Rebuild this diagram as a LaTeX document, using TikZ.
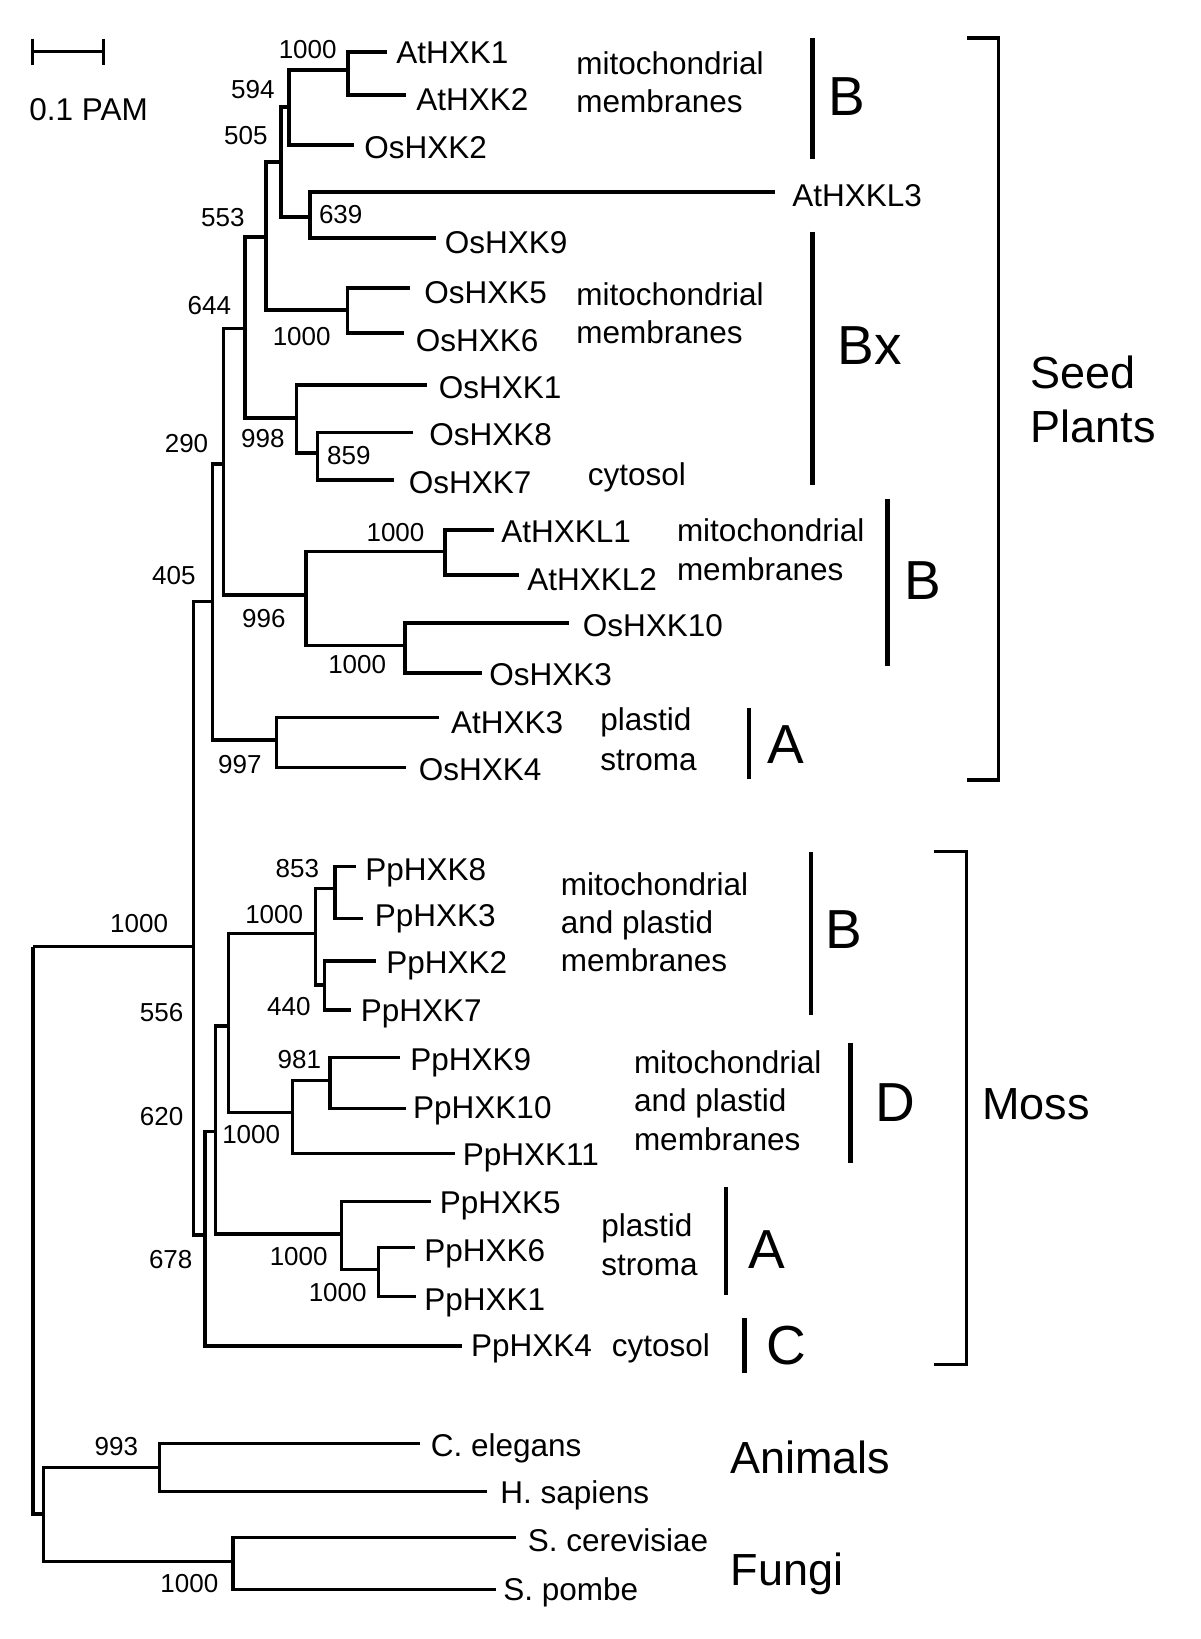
\documentclass[tikz,border=0pt]{standalone}
\usepackage{fontspec}
\setmainfont{Liberation Sans}
\begin{document}
\begin{tikzpicture}[x=0.5pt,y=-0.5pt,
  br/.style={line width=1.6pt},
  bar/.style={line width=2.4pt},
  brk/.style={line width=1.6pt},
  leaf/.style={anchor=base west,inner sep=0pt,font=\fontsize{15.75}{18}\selectfont},
  ann/.style={anchor=base west,inner sep=0pt,font=\fontsize{15.75}{18}\selectfont},
  boot/.style={anchor=east,inner sep=0pt,font=\fontsize{13}{15}\selectfont},
  big/.style={anchor=base west,inner sep=0pt,font=\fontsize{27.5}{30}\selectfont},
  grp/.style={anchor=base west,inner sep=0pt,font=\fontsize{22.5}{26}\selectfont}]
\useasboundingbox (0,0) rectangle (1200,1639);
\fill[white] (0,0) rectangle (1200,1639);

% scale bar
\draw[br] (32.5,51.7) -- (103.3,51.7);
\draw[br] (32.5,38.5) -- (32.5,65);
\draw[br] (103.3,38.5) -- (103.3,65);
\node[leaf] (scale) at (29,120) {0.1 PAM};

% internal nodes
\coordinate (R) at (33,946.7);
\coordinate (NSM) at (193.3,946.7);
\coordinate (NAF) at (43.3,1514);
\coordinate (N993) at (159.8,1467.3);
\coordinate (Nfun) at (233,1561.7);
\coordinate (N405) at (212.3,601.7);
\coordinate (N678) at (205,1235);
\coordinate (N290) at (223.3,464);
\coordinate (N997) at (276.3,740);
\coordinate (N644) at (245,328.3);
\coordinate (N996) at (306,595);
\coordinate (NL12) at (445,551.7);
\coordinate (N103) at (405,645.7);
\coordinate (N553) at (266,237);
\coordinate (N998) at (296.6,418);
\coordinate (N859) at (317.6,453);
\coordinate (N505) at (281,162);
\coordinate (N56) at (347.5,310);
\coordinate (N594) at (289,107);
\coordinate (N639) at (310,217);
\coordinate (N12) at (348,70);
\coordinate (Nm) at (215.7,1131.7);
\coordinate (N556) at (228.3,1026);
\coordinate (NA) at (341.5,1234);
\coordinate (N1a) at (315.7,933.3);
\coordinate (N1b) at (292.8,1112.7);
\coordinate (N853) at (334.9,888.3);
\coordinate (N440) at (324.5,985);
\coordinate (N981) at (329.9,1080.7);
\coordinate (N61) at (378.5,1269.3);

% leaf ends
\coordinate (lAtHXK1) at (386.5,52);
\coordinate (lAtHXK2) at (405.6,95);
\coordinate (lOsHXK2) at (354,145);
\coordinate (lAtHXKL3) at (774.5,192);
\coordinate (lOsHXK9) at (436,238);
\coordinate (lOsHXK5) at (409.5,288);
\coordinate (lOsHXK6) at (404,333);
\coordinate (lOsHXK1) at (426.7,385);
\coordinate (lOsHXK8) at (412.5,432.7);
\coordinate (lOsHXK7) at (394,480);
\coordinate (lAtHXKL1) at (493.7,530);
\coordinate (lAtHXKL2) at (518.6,575);
\coordinate (lOsHXK10) at (568.6,623);
\coordinate (lOsHXK3) at (482,673);
\coordinate (lAtHXK3) at (439.3,717.7);
\coordinate (lOsHXK4) at (405.6,767.7);
\coordinate (lPpHXK8) at (355.9,866.7);
\coordinate (lPpHXK3) at (362.8,918.3);
\coordinate (lPpHXK2) at (375.8,961);
\coordinate (lPpHXK7) at (351.3,1010);
\coordinate (lPpHXK9) at (400,1057.3);
\coordinate (lPpHXK10) at (405.6,1108.3);
\coordinate (lPpHXK11) at (455.4,1153.3);
\coordinate (lPpHXK5) at (430.5,1201.7);
\coordinate (lPpHXK6) at (415,1247.7);
\coordinate (lPpHXK1) at (416,1296.7);
\coordinate (lPpHXK4) at (462,1346);
\coordinate (lCel) at (419.6,1443.3);
\coordinate (lHsa) at (486.6,1491.7);
\coordinate (lSce) at (515.6,1537.3);
\coordinate (lSpo) at (495.5,1589.3);

% branches
\draw[br] (R) |- (NSM);
\draw[br] (R) |- (NAF);
\draw[br] (NAF) |- (N993);
\draw[br] (NAF) |- (Nfun);
\draw[br] (N993) |- (lCel);
\draw[br] (N993) |- (lHsa);
\draw[br] (Nfun) |- (lSce);
\draw[br] (Nfun) |- (lSpo);
\draw[br] (NSM) |- (N405);
\draw[br] (NSM) |- (N678);
\draw[br] (N405) |- (N290);
\draw[br] (N405) |- (N997);
\draw[br] (N997) |- (lAtHXK3);
\draw[br] (N997) |- (lOsHXK4);
\draw[br] (N290) |- (N644);
\draw[br] (N290) |- (N996);
\draw[br] (N996) |- (NL12);
\draw[br] (N996) |- (N103);
\draw[br] (NL12) |- (lAtHXKL1);
\draw[br] (NL12) |- (lAtHXKL2);
\draw[br] (N103) |- (lOsHXK10);
\draw[br] (N103) |- (lOsHXK3);
\draw[br] (N644) |- (N553);
\draw[br] (N644) |- (N998);
\draw[br] (N998) |- (lOsHXK1);
\draw[br] (N998) |- (N859);
\draw[br] (N859) |- (lOsHXK8);
\draw[br] (N859) |- (lOsHXK7);
\draw[br] (N553) |- (N505);
\draw[br] (N553) |- (N56);
\draw[br] (N56) |- (lOsHXK5);
\draw[br] (N56) |- (lOsHXK6);
\draw[br] (N505) |- (N594);
\draw[br] (N505) |- (N639);
\draw[br] (N594) |- (N12);
\draw[br] (N594) |- (lOsHXK2);
\draw[br] (N12) |- (lAtHXK1);
\draw[br] (N12) |- (lAtHXK2);
\draw[br] (N639) |- (lAtHXKL3);
\draw[br] (N639) |- (lOsHXK9);
\draw[br] (N678) |- (Nm);
\draw[br] (N678) |- (lPpHXK4);
\draw[br] (Nm) |- (N556);
\draw[br] (Nm) |- (NA);
\draw[br] (N556) |- (N1a);
\draw[br] (N556) |- (N1b);
\draw[br] (N1a) |- (N853);
\draw[br] (N1a) |- (N440);
\draw[br] (N853) |- (lPpHXK8);
\draw[br] (N853) |- (lPpHXK3);
\draw[br] (N440) |- (lPpHXK2);
\draw[br] (N440) |- (lPpHXK7);
\draw[br] (N1b) |- (N981);
\draw[br] (N1b) |- (lPpHXK11);
\draw[br] (N981) |- (lPpHXK9);
\draw[br] (N981) |- (lPpHXK10);
\draw[br] (NA) |- (lPpHXK5);
\draw[br] (NA) |- (N61);
\draw[br] (N61) |- (lPpHXK6);
\draw[br] (N61) |- (lPpHXK1);

% leaf labels
\node[leaf] (tAtHXK1) at (396,63.3) {AtHXK1};
\node[leaf] (tAtHXK2) at (416,110) {AtHXK2};
\node[leaf] (tOsHXK2) at (364,158.3) {OsHXK2};
\node[leaf] (tAtHXKL3) at (792,206.5) {AtHXKL3};
\node[leaf] (tOsHXK9) at (444.5,253.3) {OsHXK9};
\node[leaf] (tOsHXK5) at (424,303.3) {OsHXK5};
\node[leaf] (tOsHXK6) at (415.5,351.5) {OsHXK6};
\node[leaf] (tOsHXK1) at (438.5,398.3) {OsHXK1};
\node[leaf] (tOsHXK8) at (429,445) {OsHXK8};
\node[leaf] (tOsHXK7) at (408.5,493.3) {OsHXK7};
\node[leaf] (tAtHXKL1) at (501,542.5) {AtHXKL1};
\node[leaf] (tAtHXKL2) at (527,590) {AtHXKL2};
\node[leaf] (tOsHXK10) at (582.5,636.7) {OsHXK10};
\node[leaf] (tOsHXK3) at (489,685) {OsHXK3};
\node[leaf] (tAtHXK3) at (450.8,733.3) {AtHXK3};
\node[leaf] (tOsHXK4) at (418.5,780) {OsHXK4};
\node[leaf] (tPpHXK8) at (365,880) {PpHXK8};
\node[leaf] (tPpHXK3) at (374.5,926.7) {PpHXK3};
\node[leaf] (tPpHXK2) at (386,973.3) {PpHXK2};
\node[leaf] (tPpHXK7) at (360.5,1021.7) {PpHXK7};
\node[leaf] (tPpHXK9) at (410,1070) {PpHXK9};
\node[leaf] (tPpHXK10) at (412.8,1118.3) {PpHXK10};
\node[leaf] (tPpHXK11) at (462.5,1165) {PpHXK11};
\node[leaf] (tPpHXK5) at (439.5,1213.3) {PpHXK5};
\node[leaf] (tPpHXK6) at (424,1261.7) {PpHXK6};
\node[leaf] (tPpHXK1) at (424,1310) {PpHXK1};
\node[leaf] (tPpHXK4) at (470.8,1356.7) {PpHXK4};
\node[leaf] (tCel) at (430.5,1456.7) {C. elegans};
\node[leaf] (tHsa) at (500,1503.3) {H. sapiens};
\node[leaf] (tSce) at (527.5,1551.7) {S. cerevisiae};
\node[leaf] (tSpo) at (503,1600) {S. pombe};

% bootstrap values
\node[boot] (b1) at (337,50) {1000};
\node[boot] (b2) at (275,90) {594};
\node[boot] (b3) at (268,136) {505};
\node[boot] (b4) at (362.8,215) {639};
\node[boot] (b5) at (245,218) {553};
\node[boot] (b6) at (231.5,306) {644};
\node[boot] (b7) at (331,336.7) {1000};
\node[boot] (b8) at (285,438.3) {998};
\node[boot] (b9) at (371,456) {859};
\node[boot] (b10) at (208.6,443.3) {290};
\node[boot] (b11) at (424.8,532.7) {1000};
\node[boot] (b12) at (196,576) {405};
\node[boot] (b13) at (286,618.3) {996};
\node[boot] (b14) at (386.5,665) {1000};
\node[boot] (b15) at (262,765) {997};
\node[boot] (b16) at (319.5,868.3) {853};
\node[boot] (b17) at (303.5,915) {1000};
\node[boot] (b18) at (168.4,923.3) {1000};
\node[boot] (b19) at (311,1006.7) {440};
\node[boot] (b20) at (183.7,1012.7) {556};
\node[boot] (b21) at (321.5,1060) {981};
\node[boot] (b22) at (183.7,1116.7) {620};
\node[boot] (b23) at (280.5,1135) {1000};
\node[boot] (b24) at (192.8,1260) {678};
\node[boot] (b25) at (328,1256.7) {1000};
\node[boot] (b26) at (367,1292.7) {1000};
\node[boot] (b27) at (138.4,1446.7) {993};
\node[boot] (b28) at (218.7,1583.3) {1000};

% localisation annotations
\node[ann] (a1) at (576,74) {mitochondrial};
\node[ann] (a2) at (576,112) {membranes};
\node[ann] (a3) at (576,305) {mitochondrial};
\node[ann] (a4) at (576,343.3) {membranes};
\node[ann] (a5) at (587.5,485) {cytosol};
\node[ann] (a6) at (676.6,541.7) {mitochondrial};
\node[ann] (a7) at (676.6,580) {membranes};
\node[ann] (a8) at (600,730) {plastid};
\node[ann] (a9) at (600,770) {stroma};
\node[ann] (a10) at (560.4,895) {mitochondrial};
\node[ann] (a11) at (560.4,933.3) {and plastid};
\node[ann] (a12) at (560.4,971.7) {membranes};
\node[ann] (a13) at (633.6,1073.3) {mitochondrial};
\node[ann] (a14) at (633.6,1111.7) {and plastid};
\node[ann] (a15) at (633.6,1150) {membranes};
\node[ann] (a16) at (601,1236.7) {plastid};
\node[ann] (a17) at (601,1275) {stroma};
\node[ann] (a18) at (611.5,1356.7) {cytosol};

% class bars and letters
\draw[bar] (812.5,37.5) -- (812.5,158.5);
\node[big] (cB1) at (828.5,115.5) {B};
\draw[bar] (812.5,231.7) -- (812.5,485);
\node[big] (cBx) at (837.5,364) {Bx};
\draw[bar] (887.6,499.3) -- (887.6,666);
\node[big] (cB2) at (904,599) {B};
\draw[bar] (749,708.3) -- (749,779.3);
\node[big] (cA1) at (767,763) {A};
\draw[bar] (811,851.7) -- (811,1015);
\node[big] (cB3) at (824.8,948) {B};
\draw[bar] (850.8,1043.3) -- (850.8,1163.3);
\node[big] (cD) at (875.5,1121.7) {D};
\draw[bar] (726,1187.3) -- (726,1295);
\node[big] (cA2) at (748,1268) {A};
\draw[bar] (744.2,1318.3) -- (744.2,1373.3);
\node[big] (cC) at (766,1364) {C};

% group brackets
\draw[brk] (967,38) -- (998.5,38) -- (998.5,780) -- (967,780);
\node[grp] (gSeed) at (1030.5,388) {Seed};
\node[grp] (gPlants) at (1030.5,442) {Plants};
\draw[brk] (934,851.5) -- (966.8,851.5) -- (966.8,1364.5) -- (934,1364.5);
\node[grp] (gMoss) at (981.7,1119) {Moss};
\node[grp] (gAnim) at (729.6,1473) {Animals};
\node[grp] (gFungi) at (730.5,1585) {Fungi};
\end{tikzpicture}
\end{document}
